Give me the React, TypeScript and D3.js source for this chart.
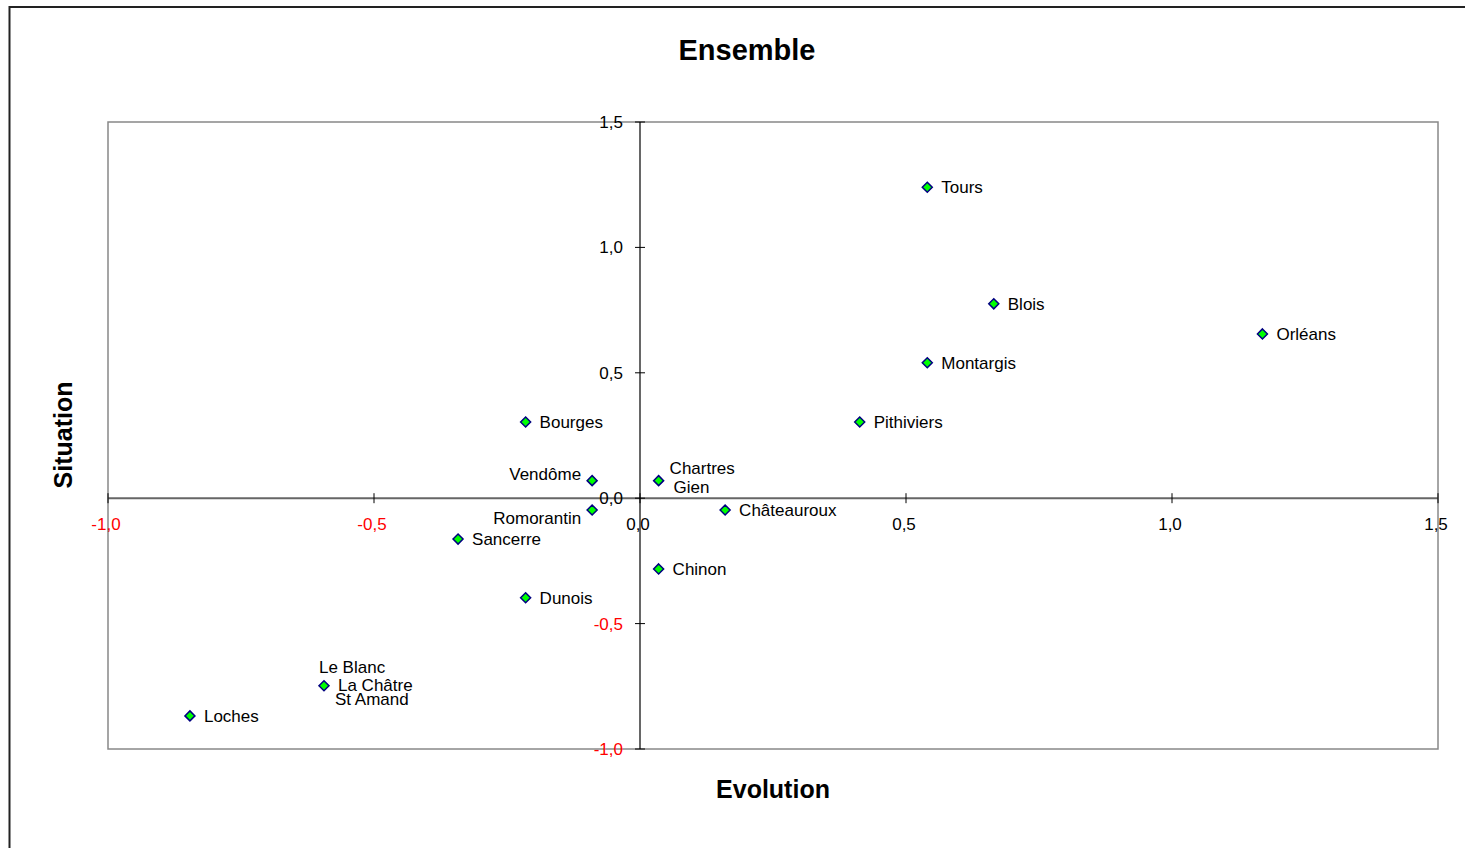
import React from "react";
import * as d3 from "d3";

const names = ["Tours", "Blois", "Orléans", "Montargis", "Pithiviers", "Bourges", "Vendôme", "Chartres", "Romorantin", "Châteauroux", "Sancerre", "Chinon", "Dunois", "Le Blanc", "Loches"];
const evolution = [0.54, 0.665, 1.17, 0.54, 0.413, -0.215, -0.09, 0.035, -0.09, 0.16, -0.342, 0.035, -0.215, -0.594, -0.846];
const situation = [1.24, 0.775, 0.655, 0.54, 0.304, 0.304, 0.07, 0.07, -0.047, -0.047, -0.163, -0.282, -0.397, -0.748, -0.868];

// label placement relative to each point: [dx, dy, anchor, text lines]
const labelLayout: [number, number, string, string[]][] = [
  [14, 0, "start", ["Tours"]],
  [14, 0, "start", ["Blois"]],
  [14, 0, "start", ["Orléans"]],
  [14, 0, "start", ["Montargis"]],
  [14, 0, "start", ["Pithiviers"]],
  [14, 0, "start", ["Bourges"]],
  [-11, -7, "end", ["Vendôme"]],
  [11, -13, "start", ["Chartres"]],
  [-11, 8, "end", ["Romorantin"]],
  [14, 0, "start", ["Châteauroux"]],
  [14, 0, "start", ["Sancerre"]],
  [14, 0, "start", ["Chinon"]],
  [14, 0, "start", ["Dunois"]],
  [-5, -19, "start", ["Le Blanc"]],
  [14, 0, "start", ["Loches"]],
];
const extraLabels: [number, number, string][] = [
  [15, 0, "Gien"],
  [14, 0, "La Châtre"],
  [11, 0, "St Amand"],
];
const extraLabelIndex = [7, 13, 13];
const extraLabelDy = [6, -1, 13.5];

const xTicks = [-1.0, -0.5, 0.0, 0.5, 1.0, 1.5];
const yTicks = [-1.0, -0.5, 0.0, 0.5, 1.0, 1.5];

const fmt = (v: number) => v.toFixed(1).replace(".", ",");

export default function App() {
  const W = 1465, H = 848;
  const left = 108, right = 1438, top = 122, bottom = 749;
  const x = d3.scaleLinear().domain([-1, 1.5]).range([left, right]);
  const y = d3.scaleLinear().domain([-1, 1.5]).range([bottom, top]);
  const x0 = x(0), y0 = y(0);
  const font = "'Liberation Sans', Arial, sans-serif";
  const diamond = (cx: number, cy: number) => {
    const r = 5;
    return `M${cx},${cy - r}L${cx + r},${cy}L${cx},${cy + r}L${cx - r},${cy}Z`;
  };
  return (
    <svg width={W} height={H} style={{ position: "absolute", left: 0, top: 0 }} fontFamily={font}>
      <rect x={0} y={0} width={W} height={H} fill="#fff" />
      <rect x={9.5} y={7} width={W + 20} height={H + 20} fill="none" stroke="#222" strokeWidth={2} />
      <rect x={left} y={top} width={right - left} height={bottom - top} fill="#fff" stroke="#888" strokeWidth={1.5} />
      {/* horizontal axis */}
      <line x1={left} x2={right} y1={y0} y2={y0} stroke="#666" strokeWidth={2} />
      {xTicks.map((t) => (
        <g key={"xt" + t}>
          <line x1={x(t)} x2={x(t)} y1={y0 - 5} y2={y0 + 5} stroke="#000" strokeWidth={1} />
          <text x={x(t) - 2} y={y0 + 32} textAnchor="middle" fontSize={17} fill={t < 0 ? "#ff0000" : "#000"}>
            {fmt(t)}
          </text>
        </g>
      ))}
      {/* vertical axis */}
      <line x1={x0} x2={x0} y1={top} y2={bottom} stroke="#000" strokeWidth={1.2} />
      {yTicks.map((t) => (
        <g key={"yt" + t}>
          <line x1={x0 - 5} x2={x0 + 5} y1={y(t)} y2={y(t)} stroke="#000" strokeWidth={1} />
          <text x={x0 - 17} y={y(t) + 6} textAnchor="end" fontSize={17} fill={t < 0 ? "#ff0000" : "#000"}>
            {fmt(t)}
          </text>
        </g>
      ))}
      {/* points */}
      {names.map((n, i) => (
        <path key={"p" + n} d={diamond(x(evolution[i]), y(situation[i]))} fill="#00ff00" stroke="#000080" strokeWidth={1.5} />
      ))}
      {/* labels */}
      {names.map((n, i) => {
        const [dx, dy, anchor, lines] = labelLayout[i];
        return (
          <text key={"l" + n} x={x(evolution[i]) + dx} y={y(situation[i]) + dy + 6} textAnchor={anchor as any} fontSize={17} fill="#000">
            {lines[0]}
          </text>
        );
      })}
      {extraLabels.map(([dx, _u, txt], k) => {
        const i = extraLabelIndex[k];
        return (
          <text key={"e" + txt} x={x(evolution[i]) + dx} y={y(situation[i]) + extraLabelDy[k] + 6} fontSize={17} fill="#000">
            {txt}
          </text>
        );
      })}
      <text x={747} y={60} textAnchor="middle" fontSize={29} fontWeight="bold">Ensemble</text>
      <text x={773} y={798} textAnchor="middle" fontSize={25} fontWeight="bold">Evolution</text>
      <text transform={`translate(72,435) rotate(-90)`} textAnchor="middle" fontSize={25} fontWeight="bold">Situation</text>
    </svg>
  );
}
